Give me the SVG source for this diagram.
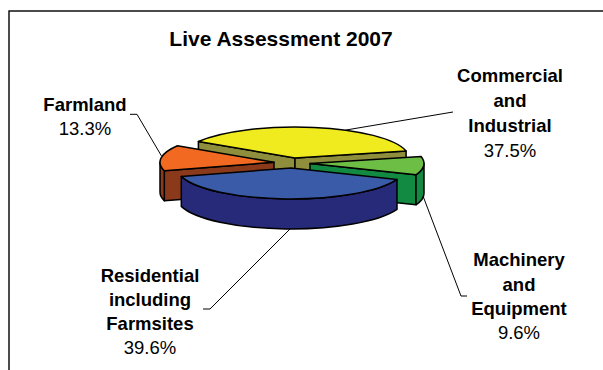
<svg xmlns="http://www.w3.org/2000/svg" width="603" height="370" viewBox="0 0 603 370">
<style>
.frame{fill:#fff;stroke:#000;stroke-width:1.4}
.o{stroke:#000;stroke-width:1.5;stroke-linejoin:round}
.lead{fill:none;stroke:#000;stroke-width:1}
text{font-family:"Liberation Sans",Arial,sans-serif;fill:#000;text-anchor:middle}
.t{font-size:21px;font-weight:bold}
.b{font-size:18.5px;font-weight:bold}
.p{font-size:18.5px}
</style>
<rect width="603" height="370" fill="#fff"/>
<rect class="frame" x="9" y="11" width="620" height="400"/>
<text class="t" x="281" y="46">Live Assessment 2007</text>
<g id="commercial">
<path class="o" fill="#8E8E3C" d="M295,158 L198.4,141.5 L198.4,171.5 L295,188 Z"/>
<path class="o" fill="#8E8E3C" d="M295,158 L406.1,151 L406.1,181 L295,188 Z"/>
<path class="o" fill="#F0EB1E" d="M295,158 L406.1,151 A114,31 0 0,0 198.4,141.5 Z"/>
</g>
<g id="farmland">
<path class="o" fill="#8A3A1B" d="M274,162.3 L164.3,170.7 L164.3,200.7 L274,192.3 Z"/>
<path class="o" fill="#8A3A1B" d="M160,162.3 A114,31 0 0,0 164.3,170.7 L164.3,200.7 A114,31 0 0,1 160,192.3 Z"/>
<path class="o" fill="#F26A21" d="M274,162.3 L164.3,170.7 A114,31 0 0,1 177.4,145.8 Z"/>
</g>
<g id="machinery">
<path class="o" fill="#128A42" d="M310,163.4 L416,174.8 L416,204.8 L310,193.4 Z"/>
<path class="o" fill="#128A42" d="M424,163.4 A114,31 0 0,1 416,174.8 L416,204.8 A114,31 0 0,0 424,193.4 Z"/>
<path class="o" fill="#6DBE45" d="M310,163.4 L416,174.8 A114,31 0 0,0 421.1,156.4 Z"/>
</g>
<g id="residential">
<path class="o" fill="#262A78" d="M397,179.4 A114,31 0 0,1 181.3,176.4 L181.3,206.4 A114,31 0 0,0 397,209.4 Z"/>
<path class="o" fill="#3A5BA8" d="M291,168 L397,179.4 A114,31 0 0,1 181.3,176.4 Z"/>
</g>
<g id="connectors">
<polyline class="lead" points="130,114.3 137,114.3 161.5,156"/>
<polyline class="lead" points="346,130 453,112"/>
<polyline class="lead" points="423,196 461,296 467,296"/>
<polyline class="lead" points="290,229 210,309 203,309"/>
</g>
<g id="labels">
<text class="b" x="85" y="111">Farmland</text>
<text class="p" x="85" y="135">13.3%</text>
<text class="b" x="510" y="82">Commercial</text>
<text class="b" x="510" y="107">and</text>
<text class="b" x="510" y="132">Industrial</text>
<text class="p" x="510" y="157">37.5%</text>
<text class="b" x="519" y="266">Machinery</text>
<text class="b" x="519" y="291">and</text>
<text class="b" x="519" y="315">Equipment</text>
<text class="p" x="519" y="339">9.6%</text>
<text class="b" x="150" y="282">Residential</text>
<text class="b" x="150" y="306">including</text>
<text class="b" x="150" y="330">Farmsites</text>
<text class="p" x="150" y="354">39.6%</text>
</g>
</svg>
